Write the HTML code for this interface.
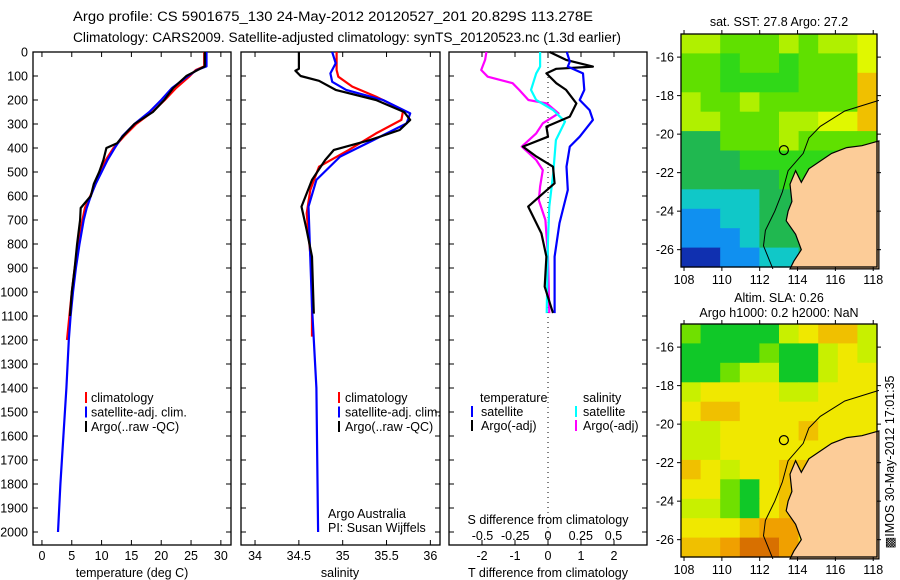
<!DOCTYPE html>
<html><head><meta charset="utf-8">
<style>
html,body{margin:0;padding:0;background:#fff;}
svg{display:block;font-family:"Liberation Sans",sans-serif;}
text{font-size:12.5px;fill:#000;}
</style></head>
<body>
<svg id="fig" width="900" height="580" viewBox="0 0 900 580" xmlns="http://www.w3.org/2000/svg">
<text x="73" y="21" textLength="520" lengthAdjust="spacingAndGlyphs" style="font-size:13.5px">Argo profile: CS 5901675_130 24-May-2012 20120527_201 20.829S 113.278E</text>
<text x="73" y="42" textLength="548" lengthAdjust="spacingAndGlyphs" style="font-size:13.5px">Climatology: CARS2009. Satellite-adjusted climatology: synTS_20120523.nc (1.3d earlier)</text>
<g id="p1"></g>
<g id="p2"></g>
<g id="p3"></g>
<g id="m1"></g>
<g id="m2"></g>
<text x="779" y="26" text-anchor="middle">sat. SST: 27.8 Argo: 27.2</text>
<text x="779" y="302" text-anchor="middle">Altim. SLA: 0.26</text>
<text x="779" y="317" text-anchor="middle">Argo h1000: 0.2 h2000: NaN</text>
<text transform="translate(894,462) rotate(-90)" text-anchor="middle">&#9641;IMOS 30-May-2012 17:01:35</text>
</svg>
<script>
// ---------------- data ----------------
const depthTicks=[0,100,200,300,400,500,600,700,800,900,1000,1100,1200,1300,1400,1500,1600,1700,1800,1900,2000];
const tempTicks=[0,5,10,15,20,25,30];
const salTicks=[34,34.5,35,35.5,36];
const tdiffTicks=[-2,-1,0,1,2];
const sdiffTicks=[-0.5,-0.25,0,0.25,0.5];
const tempSat=[[0,27.6],[60,27.6],[75,26],[100,24.5],[150,21.8],[200,20.0],[250,18.0],[300,15.5],[350,13.5],[400,12.2],[450,11],[500,10],[550,9.0],[600,8.2],[650,7.5],[700,7],[800,6.3],[900,5.7],[1000,5.2],[1100,4.8],[1200,4.5],[1400,4.1],[1600,3.6],[1800,3.1],[2000,2.7]];
const tempClim=[[0,27.2],[60,27.2],[75,25.8],[100,24.8],[150,22.5],[200,20.6],[250,18.5],[300,15.8],[350,13.8],[400,12.0],[450,10.7],[500,9.8],[550,9.0],[600,8.1],[650,7.2],[700,6.8],[800,6.1],[900,5.5],[1000,5.0],[1100,4.6],[1200,4.2]];
const tempArgo=[[0,27.3],[60,27.3],[70,26.5],[100,24.2],[150,22],[200,20.5],[250,18.6],[300,15.5],[350,13.6],[380,12.6],[400,10.8],[450,10.3],[500,9.6],[550,8.7],[600,8.2],[650,6.5],[700,6.4],[800,5.9],[900,5.5],[1000,5.0],[1100,4.7]];
const salArgo=[[0,34.50],[70,34.50],[78,34.46],[100,34.52],[120,34.73],[158,34.92],[200,35.38],[250,35.70],[283,35.77],[325,35.65],[367,35.31],[408,34.9],[450,34.8],[533,34.65],[644,34.53],[742,34.59],[853,34.65],[1090,34.67]];
const salClim=[[0,34.93],[75,34.93],[103,34.95],[144,35.11],[186,35.38],[242,35.69],[283,35.67],[339,35.38],[408,35.07],[478,34.73],[575,34.63],[672,34.59],[922,34.65],[1186,34.65]];
const salSat=[[0,34.88],[47,34.92],[89,34.86],[124,34.88],[158,35.04],[200,35.46],[256,35.77],[297,35.73],[367,35.35],[436,34.97],[533,34.70],[644,34.61],[1061,34.65],[1400,34.70],[2000,34.72]];
const tdiffSat=[[0,0.57],[40,0.66],[61,0.6],[89,1.06],[158,1.1],[200,0.96],[242,1.26],[283,1.36],[353,0.96],[394,0.66],[478,0.56],[575,0.6],[713,0.35],[853,0.2],[1088,0.2]];
const tdiffArgo=[[0,0.05],[33,0.55],[61,1.36],[70,0.25],[89,-0.05],[130,0.25],[158,0.55],[214,0.86],[269,0.66],[311,-0.05],[353,0],[394,-0.76],[436,-0.35],[478,0.15],[547,0.2],[589,-0.15],[644,-0.6],[756,-0.2],[853,-0.05],[978,-0.1],[1088,0.15]];
const sdiffSat=[[0,-0.06],[61,-0.06],[89,-0.09],[158,-0.13],[200,-0.09],[242,0.04],[290,0.13],[367,0.06],[506,0.04],[644,0.01],[783,0],[1088,-0.01]];
const sdiffArgo=[[0,-0.47],[33,-0.48],[75,-0.51],[103,-0.46],[130,-0.27],[158,-0.22],[200,-0.15],[214,-0.01],[256,0.08],[297,-0.04],[339,-0.09],[394,-0.2],[450,-0.09],[492,-0.04],[561,-0.06],[617,-0.07],[700,-0.02],[853,0],[1088,0.01]];
const lonTicks=[108,110,112,114,116,118];
const latTicks=[-16,-18,-20,-22,-24,-26];
const sstGrid=["6655565667","5545545557","5544445558","6556555558","6655566778","3355565555","3334444444","3333344444","2222334444","1122333444","1112333414","0011223400"];
const slaGrid=["1000023442","0000100232","0012200233","2333322333","3443333333","2233334333","2233333333","4323344333","3310344333","2210343333","3334553333","4456653333"];
const landCoast=[[118.3,-20.35],[117.4,-20.6],[116.6,-20.7],[115.8,-21.0],[115.2,-21.4],[114.6,-21.8],[114.2,-22.5],[113.9,-21.9],[113.6,-22.6],[113.7,-23.5],[113.5,-24.0],[113.4,-24.5],[113.9,-25.2],[114.2,-26.0],[113.8,-26.6],[113.6,-27.0],[118.3,-27.0]];
const isobath=[[118.3,-18.25],[116.5,-18.8],[115.2,-19.6],[114.6,-20.2],[114.3,-21.0],[113.5,-21.9],[113.2,-23.0],[112.8,-24.0],[112.3,-25.0],[112.2,-25.8],[112.7,-27.0]];
const argoPos=[113.278,-20.829];
// ---------------- helpers ----------------
const NS="http://www.w3.org/2000/svg";
function mk(parent,tag,attrs){const e=document.createElementNS(NS,tag);for(const k in attrs)e.setAttribute(k,attrs[k]);parent.appendChild(e);return e;}
const Y0=52,Y1=545;
const yD=d=>Y0+d*0.24;
function panel(g,x0,x1,vmin,vmax){
  const xs=v=>x0+(v-vmin)/(vmax-vmin)*(x1-x0);
  const r=mk(g,'rect',{x:x0,y:Y0,width:x1-x0,height:Y1-Y0,fill:'none',stroke:'#000','stroke-width':1.3});
  
  
  depthTicks.forEach(d=>{mk(g,'line',{x1:x0,x2:x0+5,y1:yD(d),y2:yD(d),stroke:'#000'});mk(g,'line',{x1:x1-5,x2:x1,y1:yD(d),y2:yD(d),stroke:'#000'});});
  return xs;
}
function xticks(g,xs,ticks,labels,y){
  ticks.forEach((t,i)=>{const x=xs(t);mk(g,'line',{x1:x,x2:x,y1:Y1,y2:Y1-5,stroke:'#000'});mk(g,'line',{x1:x,x2:x,y1:Y0,y2:Y0+5,stroke:'#000'});
    const tx=mk(g,'text',{x:x,y:y,'text-anchor':'middle'});tx.textContent=labels[i];
    
    });
}
function line(g,data,xs,color,w,name){
  const pts=data.map(p=>xs(p[1]).toFixed(1)+','+yD(p[0]).toFixed(1)).join(' ');
  const pl=mk(g,'polyline',{points:pts,fill:'none',stroke:color,'stroke-width':w,'stroke-linejoin':'round'});
  
  
}
function txt(g,x,y,s,name,anchor){const t=mk(g,'text',{x:x,y:y,'text-anchor':anchor||'start'});t.textContent=s;
  
  return t;}
function legBar(g,x,y,color){mk(g,'line',{x1:x,x2:x,y1:y-11,y2:y,stroke:color,'stroke-width':2});}
// ---------------- panel 1 ----------------
const p1=document.getElementById('p1');
const xT=panel(p1,33,231,-1.5,31.7);
depthTicks.forEach(d=>{const t=txt(p1,28,yD(d)+4.5,String(d),'y-tick-label','end');});
xticks(p1,xT,tempTicks,tempTicks.map(String),560);
txt(p1,132,577,'temperature (deg C)','x-axis-title','middle');
line(p1,tempClim,xT,'#f00',2.2,'temp-climatology-line');
line(p1,tempSat,xT,'#00f',2.2,'temp-satellite-line');
line(p1,tempArgo,xT,'#000',2.2,'temp-argo-line');
[['climatology','#f00'],['satellite-adj. clim.','#00f'],['Argo(..raw -QC)','#000']].forEach((l,i)=>{legBar(p1,86,403+i*14.5,l[1]);txt(p1,91,402+i*14.5,l[0],'legend-entry');});
// ---------------- panel 2 ----------------
const p2=document.getElementById('p2');
const xS=panel(p2,241,440,33.84,36.11);
xticks(p2,xS,salTicks,salTicks.map(String),560);
txt(p2,340,577,'salinity','x-axis-title','middle');
line(p2,salClim,xS,'#f00',2.2,'sal-climatology-line');
line(p2,salSat,xS,'#00f',2.2,'sal-satellite-line');
line(p2,salArgo,xS,'#000',2.2,'sal-argo-line');
[['climatology','#f00'],['satellite-adj. clim.','#00f'],['Argo(..raw -QC)','#000']].forEach((l,i)=>{legBar(p2,339,403+i*14.5,l[1]);txt(p2,345,402+i*14.5,l[0],'legend-entry');});
txt(p2,328,518,'Argo Australia','credit-text');
txt(p2,328,532,'PI: Susan Wijffels','credit-text');
// ---------------- panel 3 ----------------
const p3=document.getElementById('p3');
const xTd=panel(p3,449,647,-3,3);
const xSd=v=>548+v*131;
const zl=mk(p3,'line',{x1:548,x2:548,y1:Y0,y2:Y1,stroke:'#000','stroke-dasharray':'1,4'});
xticks(p3,xTd,tdiffTicks,tdiffTicks.map(String),560);
sdiffTicks.forEach(t=>{const x=xSd(t);txt(p3,x,540,String(t),'s-tick-label','middle');});
txt(p3,548,524,'S difference from climatology','s-axis-title','middle');
txt(p3,548,577,'T difference from climatology','x-axis-title','middle');
line(p3,sdiffArgo,xSd,'#f0f',2.2,'sdiff-argo-line');
line(p3,sdiffSat,xSd,'#0ff',2.2,'sdiff-satellite-line');
line(p3,tdiffArgo,xTd,'#000',2.2,'tdiff-argo-line');
line(p3,tdiffSat,xTd,'#00f',2.2,'tdiff-satellite-line');
txt(p3,480,402,'temperature','legend-heading');
txt(p3,583,402,'salinity','legend-heading');
legBar(p3,472,417,'#00f');txt(p3,481,416,'satellite','legend-entry');
legBar(p3,472,431,'#000');txt(p3,481,430,'Argo(-adj)','legend-entry');
legBar(p3,576,417,'#0ff');txt(p3,583,416,'satellite','legend-entry');
legBar(p3,576,431,'#f0f');txt(p3,583,430,'Argo(-adj)','legend-entry');
// ---------------- maps ----------------
function map(g,top,grid,palette,cname){
  const L=681,R=877,H=233,B=top+H,lon0=107.84,lon1=118.2,lat0=-14.8,lat1=-26.9;
  const mx=lo=>L+(lo-lon0)/(lon1-lon0)*(R-L);
  const my=la=>top+(la-lat0)/(lat1-lat0)*H;
  const cols=grid[0].length,rows=grid.length;
  const cw=(R-L)/cols,ch=H/rows;
  grid.forEach((row,j)=>{for(let i=0;i<cols;i++){
    const c=mk(g,'rect',{x:(L+i*cw).toFixed(1),y:(top+j*ch).toFixed(1),width:(cw+0.6).toFixed(1),height:(ch+0.6).toFixed(1),fill:palette[+row[i]]});
    
    }});
  const land=mk(g,'polygon',{points:landCoast.map(p=>mx(p[0]).toFixed(1)+','+my(p[1]).toFixed(1)).join(' '),fill:'#fccc98',stroke:'#000','stroke-width':1.2});
  
  
  const iso=mk(g,'polyline',{points:isobath.map(p=>mx(p[0]).toFixed(1)+','+my(p[1]).toFixed(1)).join(' '),fill:'none',stroke:'#000','stroke-width':1});
  
  
  const c=mk(g,'circle',{cx:mx(argoPos[0]),cy:my(argoPos[1]),r:4.5,fill:'none',stroke:'#000','stroke-width':1.2});
  
  
  const fr=mk(g,'rect',{x:L,y:top,width:R-L,height:H,fill:'none',stroke:'#000','stroke-width':1.3});
  lonTicks.forEach(lo=>{const x=mx(lo);mk(g,'line',{x1:x,x2:x,y1:top,y2:top-4,stroke:'#000'});mk(g,'line',{x1:x,x2:x,y1:B,y2:B+4,stroke:'#000'});
    txt(g,x,B+17,String(lo),'lon-tick-label','middle');});
  latTicks.forEach(la=>{const y=my(la);mk(g,'line',{x1:L,x2:L-4,y1:y,y2:y,stroke:'#000'});mk(g,'line',{x1:R,x2:R+4,y1:y,y2:y,stroke:'#000'});
    txt(g,674,y+4.5,String(la),'lat-tick-label','end');});
}
map(document.getElementById('m1'),34,sstGrid,['#1030b0','#1090f0','#10c8c8','#20b850','#30d818','#60e000','#b0f000','#e0f800','#f0c000'],'sst-cell');
map(document.getElementById('m2'),324,slaGrid,['#10c828','#70e000','#c8f000','#f0e800','#f0c000','#f0a000','#d87000'],'sla-cell');
</script>
</body></html>
